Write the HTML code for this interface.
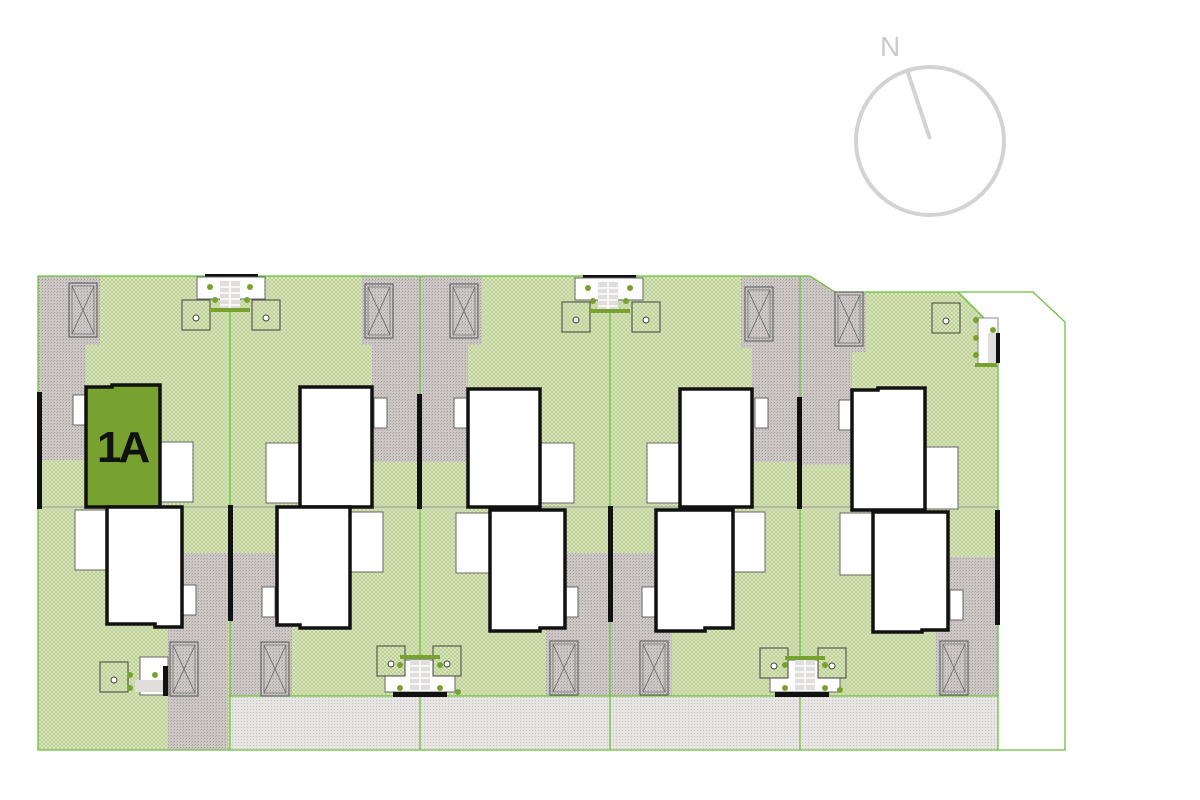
<!DOCTYPE html>
<html><head><meta charset="utf-8"><style>html,body{margin:0;padding:0;background:#fff}svg{display:block}</style></head><body>
<svg width="1200" height="800" viewBox="0 0 1200 800" xmlns="http://www.w3.org/2000/svg">
<defs>
<pattern id="h" width="4" height="4" patternUnits="userSpaceOnUse"><rect width="4" height="4" fill="#dde7c3"/><path d="M0 4L4 0M0 0L4 4" stroke="#b2c985" stroke-width="0.7"/></pattern>
<pattern id="g" width="3" height="3" patternUnits="userSpaceOnUse"><rect width="3" height="3" fill="#cdc8c6"/><rect x="0" y="0" width="1" height="1" fill="#a29c9a"/><rect x="2" y="1" width="1" height="1" fill="#b6b0ae"/></pattern>
<pattern id="r" width="3" height="3" patternUnits="userSpaceOnUse"><rect width="3" height="3" fill="#e7e5e4"/><rect x="1" y="1" width="1" height="1" fill="#c5c1bf"/></pattern>
<g id="xb"><rect x="0" y="0" width="28" height="54" fill="none" stroke="#555" stroke-width="1"/><rect x="3" y="3" width="22" height="48" fill="none" stroke="#777" stroke-width="0.8"/><path d="M3 3L25 51M25 3L3 51" stroke="#666" stroke-width="0.8"/></g>
<g id="bin"><rect x="0" y="0" width="28" height="30" fill="url(#h)" stroke="#444" stroke-width="1"/><circle cx="14" cy="18" r="3" fill="#fff" stroke="#444"/></g>
<g id="st"><rect x="0" y="0" width="20" height="30" fill="#e0dedc"/><path d="M0 6H20M0 12H20M0 18H20M0 24H20M10 0V30" stroke="#fff" stroke-width="1.5"/></g>
</defs>
<circle cx="930" cy="141" r="74" fill="none" stroke="#d3d3d3" stroke-width="4"/>
<line x1="907" y1="70" x2="930" y2="139" stroke="#d3d3d3" stroke-width="4"/>
<text x="880" y="56" font-family="Liberation Sans, sans-serif" font-size="28" fill="#c9c9c9">N</text>
<polygon points="38,276 810,276 835,292 1033,292 1065,322 1065,750 38,750" fill="url(#h)"/>
<polygon points="958,292 1033,292 1065,322 1065,750 998,750 998,332" fill="#fff"/>
<rect x="229" y="696" width="769" height="54" fill="url(#r)"/>
<g fill="url(#g)">
<polygon points="38,276 100,276 100,345 86,345 86,460 38,460"/>
<rect x="168" y="620" width="60" height="130"/>
<rect x="182" y="553" width="46" height="67"/>
<polygon points="362,276 420,276 420,462 372,462 372,345 362,345"/>
<rect x="230" y="553" width="47" height="67"/><rect x="230" y="620" width="62" height="76"/>
<polygon points="420,276 482,276 482,345 468,345 468,462 420,462"/>
<rect x="565" y="553" width="45" height="67"/><rect x="546" y="620" width="64" height="76"/>
<polygon points="741,276 800,276 800,462 752,462 752,348 741,348"/>
<rect x="610" y="553" width="46" height="67"/><rect x="610" y="620" width="62" height="76"/>
<polygon points="800,276 810,276 835,292 866,292 866,352 852,352 852,465 805,465 800,465"/>
<rect x="948" y="557" width="49" height="68"/><rect x="936" y="625" width="62" height="71"/>
</g>
<g stroke="#6cc23f" stroke-width="1.3" fill="none">
<polygon points="38,276 810,276 835,292 1033,292 1065,322 1065,750 38,750"/>
<line x1="230" y1="276" x2="230" y2="750"/><line x1="420" y1="276" x2="420" y2="750"/>
<line x1="610" y1="276" x2="610" y2="750"/><line x1="800" y1="276" x2="800" y2="750"/>
<line x1="998" y1="332" x2="998" y2="750"/><line x1="958" y1="292" x2="998" y2="332"/>
<line x1="229" y1="696" x2="998" y2="696"/>
</g>
<g stroke="#999" stroke-width="1">
<line x1="38" y1="507" x2="998" y2="507"/>
</g>
<use href="#xb" x="69" y="283"/><use href="#xb" x="170" y="642"/>
<use href="#xb" x="365" y="284"/><use href="#xb" x="261" y="642"/>
<use href="#xb" x="450" y="284"/><use href="#xb" x="550" y="641"/>
<use href="#xb" x="745" y="287"/><use href="#xb" x="640" y="641"/>
<use href="#xb" x="835" y="292"/><use href="#xb" x="940" y="641"/>
<g fill="#fff" stroke="#666" stroke-width="1">
<rect x="160" y="442" width="33" height="60"/><rect x="75" y="510" width="32" height="60"/>
<rect x="266" y="443" width="34" height="60"/><rect x="350" y="512" width="33" height="60"/>
<rect x="540" y="443" width="34" height="60"/><rect x="456" y="513" width="34" height="60"/>
<rect x="647" y="443" width="33" height="60"/><rect x="733" y="512" width="32" height="60"/>
<rect x="925" y="447" width="33" height="62"/><rect x="840" y="513" width="33" height="62"/>
</g>
<g fill="#fff" stroke="#666" stroke-width="1">
<rect x="73" y="395" width="13" height="30"/><rect x="183" y="585" width="13" height="30"/>
<rect x="374" y="398" width="13" height="30"/><rect x="262" y="587" width="13" height="30"/>
<rect x="454" y="398" width="13" height="30"/><rect x="565" y="587" width="13" height="30"/>
<rect x="755" y="398" width="13" height="30"/><rect x="642" y="587" width="13" height="30"/>
<rect x="839" y="400" width="13" height="30"/><rect x="950" y="590" width="13" height="30"/>
</g>
<g fill="#fff" stroke="#111" stroke-width="3.5">
<polygon points="86,387 112,387 112,385 160,385 160,507 86,507" fill="#78a22f"/>
<polygon points="107,507 182,507 182,627 155,627 155,624 107,624"/>
<polygon points="300,387 372,387 372,507 300,507"/>
<polygon points="277,507 350,507 350,628 300,628 300,625 277,625"/>
<polygon points="468,389 540,389 540,507 468,507"/>
<polygon points="490,510 565,510 565,628 540,628 540,631 490,631"/>
<polygon points="680,389 752,389 752,507 680,507"/>
<polygon points="656,510 733,510 733,628 705,628 705,631 656,631"/>
<polygon points="852,390 878,390 878,388 925,388 925,510 852,510"/>
<polygon points="873,512 948,512 948,630 922,630 922,632 873,632"/>
</g>
<text x="97" y="462" font-family="Liberation Sans, sans-serif" font-weight="bold" font-size="44" letter-spacing="-3" fill="#111">1A</text>
<g fill="#111">
<rect x="37" y="392" width="5" height="117"/><rect x="228" y="505" width="5" height="116"/>
<rect x="417" y="394" width="5" height="115"/><rect x="608" y="506" width="5" height="116"/>
<rect x="797" y="397" width="5" height="112"/><rect x="995" y="510" width="5" height="115"/>
</g>
<g>
<rect x="205" y="274" width="53" height="4" fill="#111"/>
<rect x="197" y="277" width="68" height="22" fill="#fff" stroke="#666"/>
<use href="#st" x="220" y="281"/>
<use href="#bin" x="182" y="300"/><use href="#bin" x="252" y="300"/>
<g fill="#78a22f"><circle cx="210" cy="287" r="3"/><circle cx="250" cy="287" r="3"/><rect x="210" y="308" width="40" height="4"/><circle cx="215" cy="300" r="3"/><circle cx="247" cy="300" r="3"/></g>
</g>
<g>
<rect x="583" y="275" width="53" height="4" fill="#111"/>
<rect x="575" y="278" width="68" height="22" fill="#fff" stroke="#666"/>
<use href="#st" x="598" y="282"/>
<use href="#bin" x="562" y="302"/><use href="#bin" x="632" y="302"/>
<g fill="#78a22f"><circle cx="588" cy="288" r="3"/><circle cx="630" cy="288" r="3"/><rect x="590" y="309" width="40" height="4"/><circle cx="593" cy="301" r="3"/><circle cx="626" cy="301" r="3"/></g>
</g>
<g>
<rect x="385" y="660" width="70" height="32" fill="#fff" stroke="#666"/>
<use href="#bin" x="377" y="646"/><use href="#bin" x="433" y="646"/>
<use href="#st" x="410" y="660"/>
<g fill="#78a22f"><rect x="400" y="655" width="40" height="4"/><circle cx="400" cy="665" r="3"/><circle cx="440" cy="665" r="3"/><circle cx="400" cy="688" r="3"/><circle cx="440" cy="688" r="3"/><circle cx="458" cy="692" r="3"/></g>
<rect x="393" y="692" width="54" height="5" fill="#111"/>
</g>
<g>
<rect x="770" y="660" width="70" height="32" fill="#fff" stroke="#666"/>
<use href="#bin" x="760" y="648"/><use href="#bin" x="818" y="648"/>
<use href="#st" x="795" y="660"/>
<g fill="#78a22f"><rect x="785" y="656" width="40" height="4"/><circle cx="785" cy="665" r="3"/><circle cx="825" cy="665" r="3"/><circle cx="785" cy="688" r="3"/><circle cx="825" cy="688" r="3"/><circle cx="840" cy="690" r="3"/></g>
<rect x="775" y="692" width="54" height="5" fill="#111"/>
</g>
<g>
<rect x="140" y="657" width="28" height="38" fill="#fff" stroke="#666"/>
<use href="#bin" x="100" y="662"/>
<rect x="135" y="680" width="30" height="12" fill="#e0dedc"/>
<g fill="#78a22f"><circle cx="130" cy="675" r="3"/><circle cx="130" cy="688" r="3"/><circle cx="155" cy="675" r="3"/></g>
<rect x="163" y="666" width="5" height="30" fill="#111"/>
</g>
<g>
<rect x="978" y="318" width="20" height="48" fill="#fff" stroke="#888"/>
<rect x="988" y="333" width="9" height="30" fill="#e0dedc"/>
<rect x="996" y="333" width="4" height="30" fill="#111"/>
<g fill="#78a22f"><circle cx="976" cy="320" r="3"/><circle cx="976" cy="338" r="3"/><circle cx="976" cy="355" r="3"/><rect x="975" y="363" width="22" height="4"/><circle cx="993" cy="330" r="3"/></g>
<use href="#bin" x="932" y="303"/>
</g>
</svg>
</body></html>
